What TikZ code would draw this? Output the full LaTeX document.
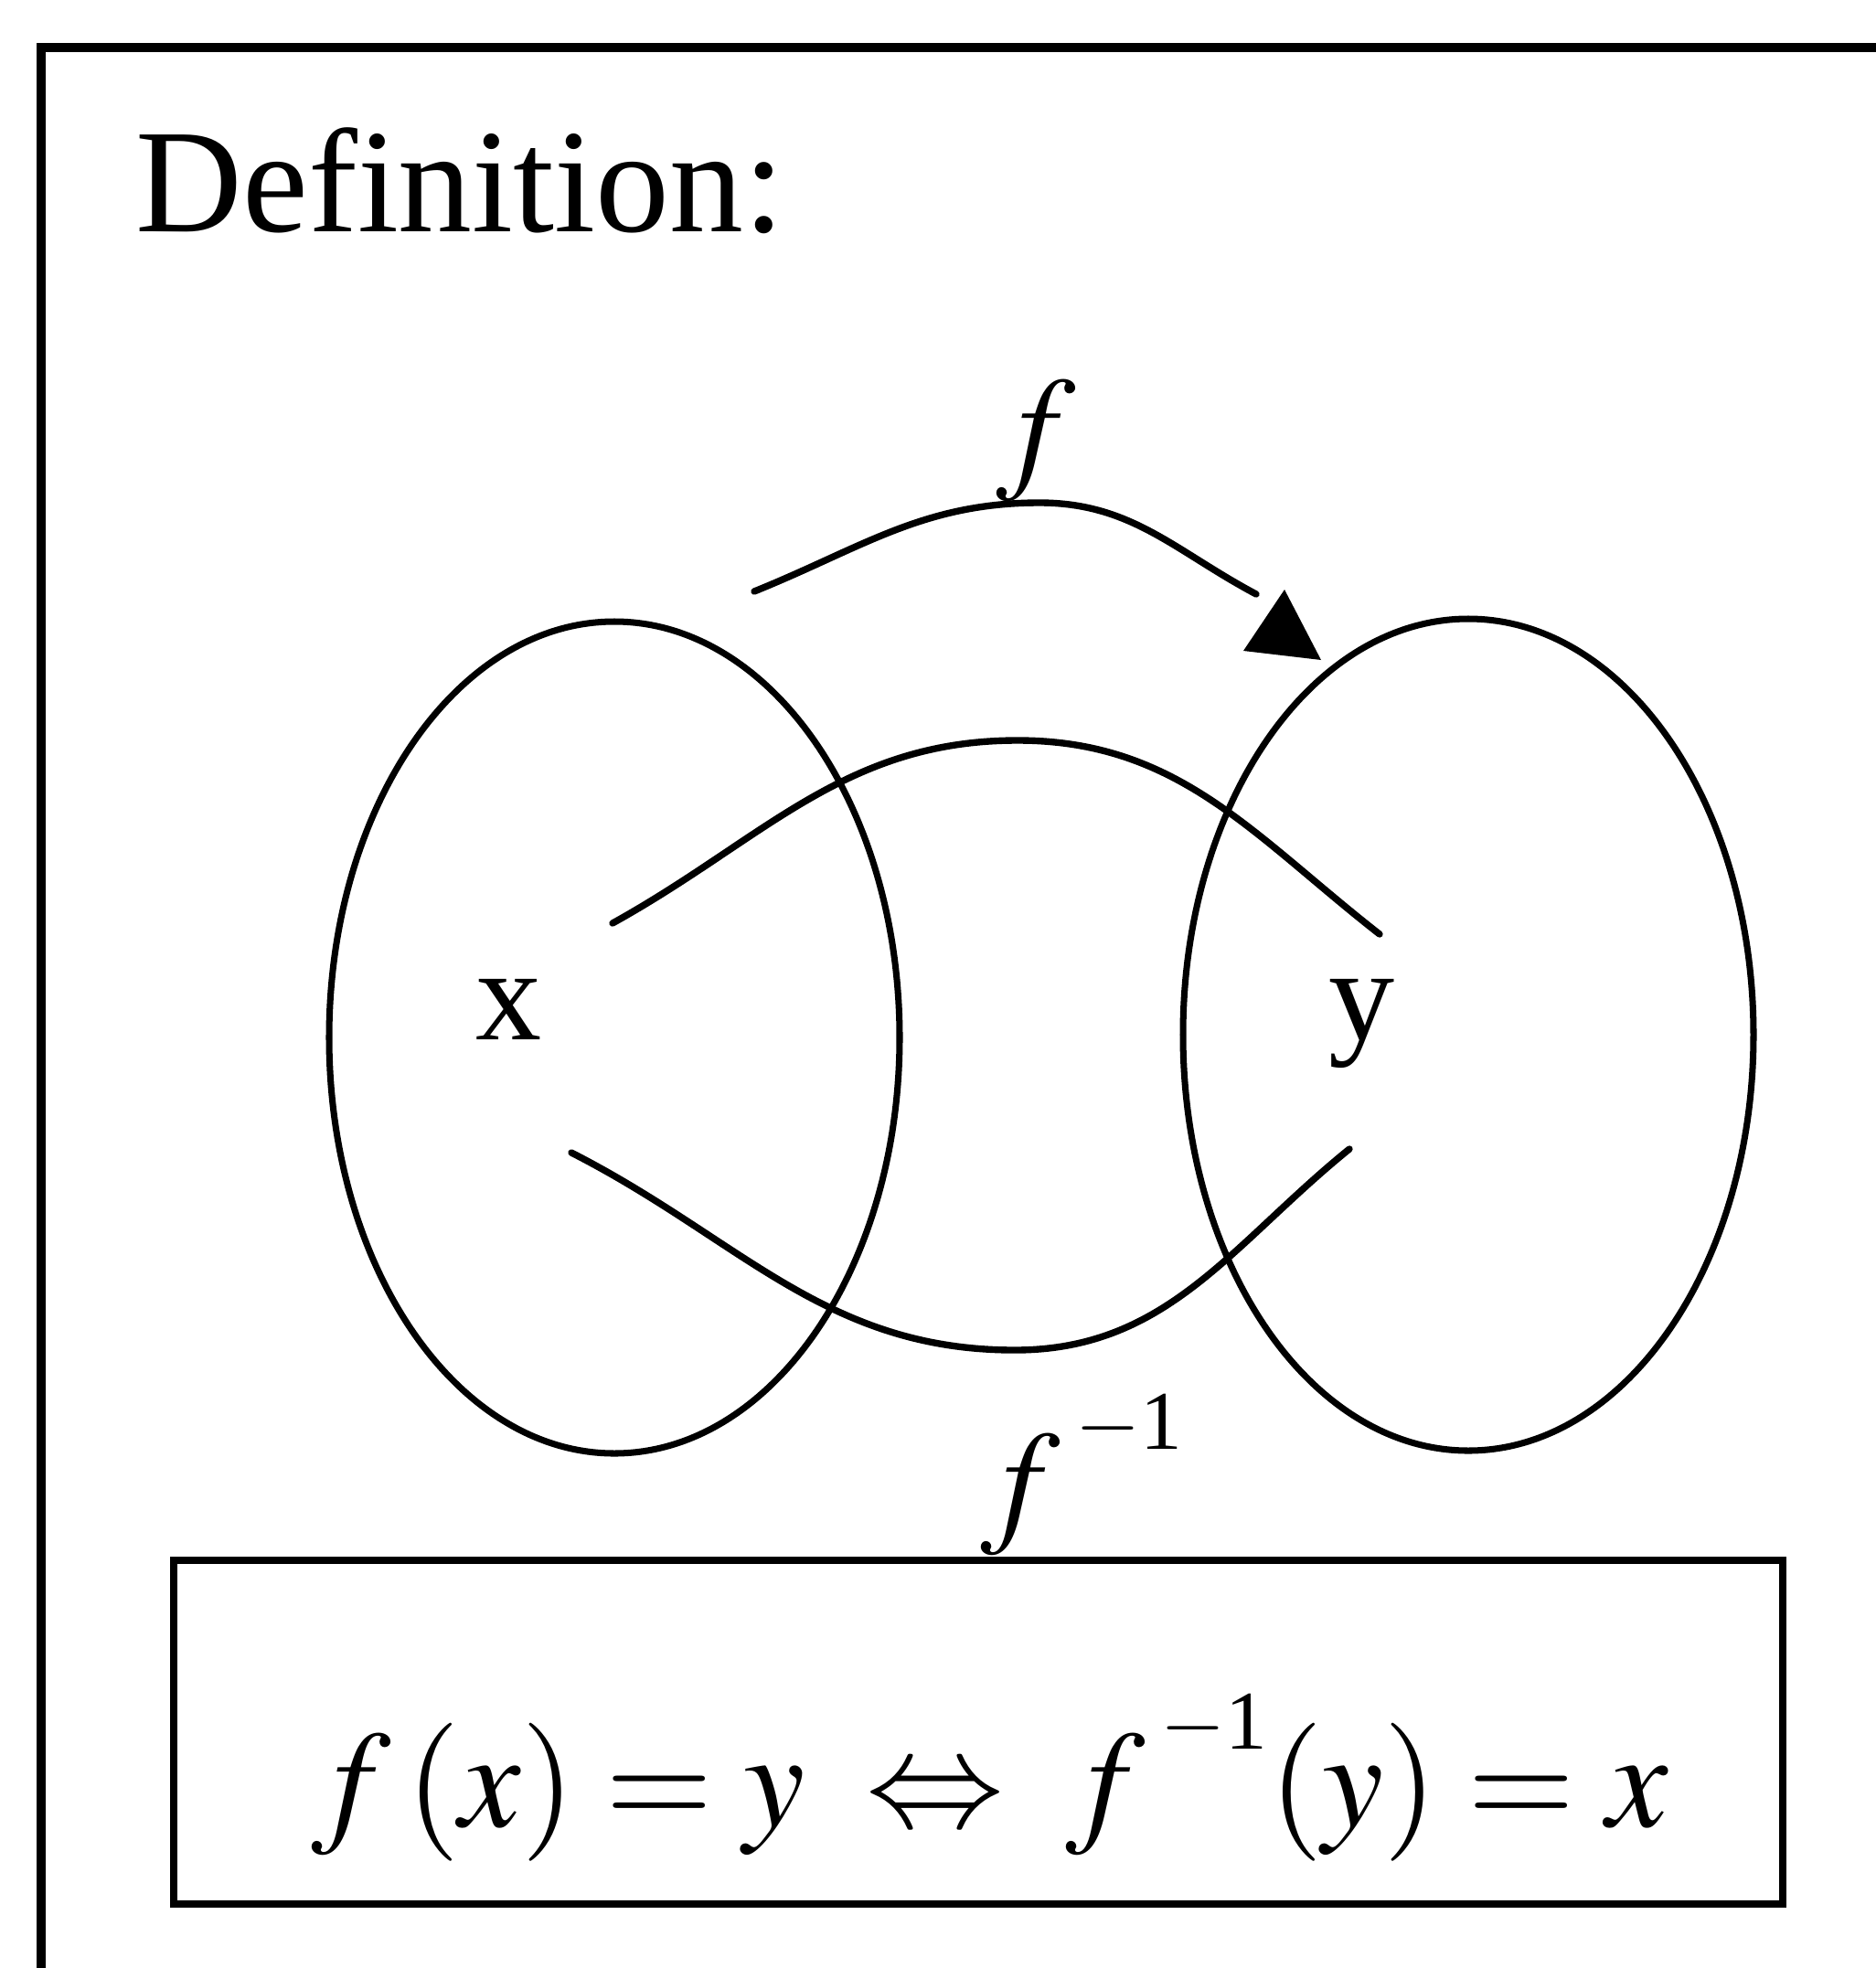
\documentclass[tikz,border=0pt]{standalone}
\usepackage{mathptmx}
\usepackage{fontspec}
\setmainfont{Liberation Serif}
\usetikzlibrary{shapes.geometric}
\newcommand{\invexp}{^{\raisebox{0.3cm}{\fontsize{26}{30}\selectfont$-$1}}}
\tikzset{
    bigText/.style={inner sep=0pt, font=\fontsize{43}{50}\selectfont},
    setShape/.style={ellipse, draw=black, line width=2pt, inner sep=0pt, minimum width=6.24cm, minimum height=9.1cm},
    mapLine/.style={line width=2.1pt, line cap=round},
    frameLine/.style={line width=2.8pt},
    ruleBox/.style={rectangle, draw=black, line width=2.4pt, minimum width=17.6cm, minimum height=3.76cm}
}

\begin{document}
\begin{tikzpicture}
    \useasboundingbox (0,0) rectangle (20.52,-21.53);
    \draw[frameLine] (20.7,-0.52)--(0.45,-0.52)--(0.45,-21.7);
    \node[bigText, anchor=base west, font=\fontsize{46}{52}\selectfont] (Title) at (1.48,-2.53) {Definition:};

    \node[setShape] (SetX) at (6.72,-11.35) {};
    \node[setShape] (SetY) at (16.06,-11.32) {};
    \node[bigText, anchor=base, font=\fontsize{41}{48}\selectfont] (LabelX) at (5.565,-11.37) {x};
    \node[bigText, anchor=base, font=\fontsize{41}{48}\selectfont] (LabelY) at (14.90,-11.37) {y};

    % f arrow above the sets
    \coordinate (FStart) at (8.25,-6.47);  \coordinate (FPeak) at (11.37,-5.50);
    \coordinate (FEnd) at (13.74,-6.50);
    \draw[mapLine] (FStart) to[out=22,in=180] (FPeak) to[out=0,in=152] (FEnd);
    \fill (14.05,-6.45)--(13.60,-7.12)--(14.45,-7.22)--cycle;
    \node[bigText, anchor=base west] (FLabel) at (10.89,-5.17) {$f$};

    % curves between x and y
    \coordinate (UpStart) at (6.70,-10.10);  \coordinate (UpPeak) at (11.13,-8.10);
    \coordinate (UpEnd) at (15.09,-10.22);
    \draw[mapLine] (UpStart) to[out=29,in=180] (UpPeak) to[out=0,in=142] (UpEnd);
    \coordinate (LowStart) at (6.25,-12.61);  \coordinate (LowBottom) at (11.10,-14.77);
    \coordinate (LowEnd) at (14.76,-12.57);
    \draw[mapLine] (LowStart) to[out=-27,in=180] (LowBottom) to[out=0,in=-141] (LowEnd);
    \node[bigText, anchor=base west] (FInvLabel) at (10.72,-16.70) {$f\,\invexp$};

    \node[ruleBox] (RuleBox) at (10.70,-18.95) {};
    \node[bigText, anchor=base west] (Rule) at (3.40,-19.98)
        {$f\,(x)=y\;\Leftrightarrow\; f\,\invexp(y)=x$};
\end{tikzpicture}
\end{document}
